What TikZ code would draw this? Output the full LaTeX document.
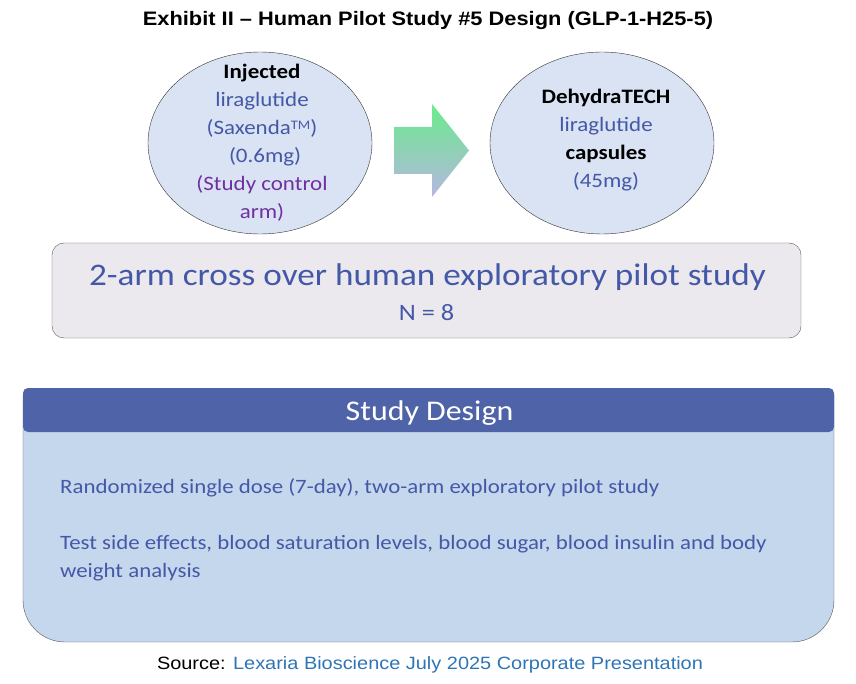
\documentclass[tikz,border=0pt]{standalone}
\usepackage{fontspec}
\setmainfont{Carlito}[FakeStretch=1.12]
\newfontfamily\arialfont{Liberation Sans}[FakeStretch=1.12]
\usetikzlibrary{shapes.geometric}

\definecolor{txtblue}{RGB}{68,88,168}
\definecolor{txtpurple}{RGB}{112,48,160}
\definecolor{ovalfill}{RGB}{218,227,243}
\definecolor{boxfill}{RGB}{235,233,238}
\definecolor{hdrblue}{RGB}{79,100,168}
\definecolor{bodyblue}{RGB}{197,215,236}
\definecolor{srcblue}{RGB}{46,117,182}
\definecolor{arrowtop}{RGB}{105,236,140}
\definecolor{arrowbot}{RGB}{182,182,224}

\tikzset{
  oval/.style={ellipse, draw=black!80, fill=ovalfill, minimum width=224pt, minimum height=182pt, inner sep=0pt},
  ovaltext/.style={align=center, font=\fontsize{20.5}{28}\selectfont, text=txtblue},
  bodytext/.style={anchor=west, align=left, inner sep=0pt, font=\fontsize{20.4}{28}\selectfont, text=txtblue}
}

\begin{document}
\begin{tikzpicture}[x=1pt, y=-1pt]
\useasboundingbox (0,0) rectangle (856,684);

\node[font=\arialfont\bfseries\fontsize{19.5}{22}\selectfont] (title) at (428,21) {Exhibit II – Human Pilot Study \#5 Design (GLP-1-H25-5)};

% the two arms
\node[oval] (inj) at (260,143) {};
\node[ovaltext] (injtext) at (262,143) {\textcolor{black}{\textbf{Injected}}\\liraglutide\\(Saxenda{\fontsize{13}{13}\selectfont\raisebox{5pt}{TM}})\\\hspace*{0.3em}(0.6mg)\\\textcolor{txtpurple}{(Study control}\\\textcolor{txtpurple}{arm)}};

\node[oval] (dht) at (602,143) {};
\node[ovaltext] (dhttext) at (606,140) {\textcolor{black}{\textbf{DehydraTECH}}\\liraglutide\\\textcolor{black}{\textbf{capsules}}\\(45mg)};

\shade[top color=arrowtop, bottom color=arrowbot] (394,127) -- (432,127) -- (432,104) -- (469,150.5) -- (432,197) -- (432,174) -- (394,174) -- cycle;

% cross over box
\node[draw=black!65, fill=boxfill, rounded corners=12pt, minimum width=749pt, minimum height=95pt] (cross) at (426.5,290.5) {};
\node[text=txtblue, font=\fontsize{31.4}{34}\selectfont] (crosstext) at (427.5,277) {2-arm cross over human exploratory pilot study};
\node[text=txtblue, font=\fontsize{23.5}{26}\selectfont] (ntext) at (426.5,313) {N = 8};

% study design panel
\draw[draw=black!65, fill=bodyblue, rounded corners=42pt] (23,395) -- (23,642) -- (834,642) -- (834,395);
\node[fill=hdrblue, rounded corners=5pt, minimum width=811pt, minimum height=44pt] (hdr) at (428.5,410) {};
\node[text=white, font=\fontsize{28.5}{30}\selectfont] (hdrtext) at (429.5,413) {Study Design};

\node[bodytext] (item1) at (60,488) {Randomized single dose (7-day), two-arm exploratory pilot study};
\node[bodytext] (item2) at (60,558) {Test side effects, blood saturation levels, blood sugar, blood insulin and body\\weight analysis};

\node[font=\arialfont\fontsize{17.8}{20}\selectfont] (source) at (430,665) {Source: \textcolor{srcblue}{Lexaria Bioscience July 2025 Corporate Presentation}};
\end{tikzpicture}
\end{document}
